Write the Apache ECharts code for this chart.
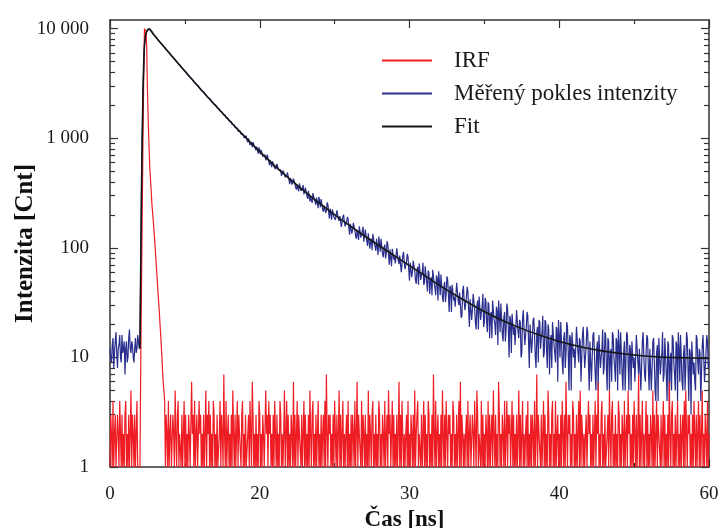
<!DOCTYPE html>
<html><head><meta charset="utf-8">
<script src="https://cdn.jsdelivr.net/npm/echarts@6/dist/echarts.min.js"></script>
<style>html,body{margin:0;padding:0;background:#fff}#c{width:720px;height:528px}</style>
</head><body><div id="c"></div>
<script>
const seriesNames = ['IRF', 'Měřený pokles intenzity', 'Fit'];
const channelNs = 0.075;

const irfCounts = [
1,3,2,1,4,1,2,3,1,1,3,2,1,4,2,1,3,1,2,1,3,4,1,2,1,3,1,2,5,1,3,2,1,3,1,2,4,1,1,
1,1,
8,40,200,900,3500,10000,9900,9500,7000,2800,1500,900,560,430,330,250,205,170,135,110,85,66,52,40,32,25,19,15,11,8,6,5,4,
1,3,2,1,4,1,2,3,1,1,3,2,1,5,2,1,3,4,1,2,
2,1,3,1,2,4,1,3,1,2,1,3,2,1,1,6,2,3,1,4,
1,2,3,1,1,4,2,3,1,2,1,3,1,2,5,1,3,2,4,1,
3,1,2,1,4,3,1,2,1,3,1,1,2,4,1,3,2,1,7,2,
1,4,1,2,3,1,2,1,3,1,5,2,1,3,1,2,4,1,3,2,
2,1,3,4,1,2,1,3,1,1,2,3,1,4,2,1,6,3,1,2,
1,3,1,2,1,4,3,1,2,1,3,2,1,1,5,2,3,1,4,2,
3,1,2,1,3,1,4,2,1,3,1,2,1,4,3,1,2,1,2,5,
1,2,4,1,3,1,2,1,3,2,1,6,1,3,1,2,4,1,3,2,
2,1,3,1,2,4,1,3,1,2,1,3,1,5,2,1,3,4,1,2,
1,3,1,2,4,1,2,1,3,1,2,3,1,4,1,7,2,1,3,2,
3,1,2,1,3,1,4,2,1,3,1,2,5,1,3,1,2,4,1,2,
1,2,3,1,4,1,2,1,3,1,3,2,1,4,1,2,6,1,3,2,
2,1,4,1,3,2,1,3,1,2,1,5,1,3,2,1,3,4,1,2,
1,3,1,2,1,4,3,1,2,1,3,2,1,4,1,2,3,1,5,2,
3,1,2,4,1,3,1,2,1,3,1,2,6,1,3,1,4,2,1,2,
1,2,3,1,4,1,2,1,3,2,1,3,1,5,1,2,3,4,1,2,
2,1,3,1,2,4,1,3,1,2,1,4,3,1,2,1,3,1,7,2,
1,4,1,2,3,1,2,1,3,1,5,2,1,3,1,4,2,1,3,2,
3,1,2,1,4,3,1,2,1,3,1,2,4,1,6,1,3,2,1,2,
1,2,3,1,4,1,2,3,1,1,3,2,1,4,2,1,5,3,1,2,
2,1,4,1,3,1,2,1,3,2,1,4,1,3,1,2,3,1,5,2,
1,3,1,2,1,6,3,1,2,1,3,2,1,4,1,2,4,1,3,2,
3,1,2,4,1,3,1,2,1,3,1,2,5,1,3,1,2,4,1,2,
1,2,3,1,4,1,2,1,3,1,3,2,1,4,1,2,7,1,3,2,
2,1,3,1,2,4,1,3,1,2,1,5,3,1,2,1,3,4,1,2,
1,4,1,2,3,1,2,1,3,1,4,2,1,3,1,6,2,1,3,2,
3,1,2,1,4,3,1,2,1,3,1,2,4,1,5,1,3,2,1,2,
1,2,3,1,1,4,2,3,1,2,1,3,1,2,4,1,3,2,6,1,
2,1,3,4,1,2,1,3,1,1,2,3,1,5,2,1,3,4,1,2,
1,3,1,2,1,4,3,1,2,1,3,2,1,4,1,2,3,1,5,2,
3,1,2,1,3,1,4,2,1,3,1,2,7,1,3,1,2,4,1,2,
1,2,4,1,3,1,2,1,3,2,1,5,1,3,1,2,4,1,3,2,
2,1,3,1,2,4,1,3,1,2,1,3,1,6,2,1,3,4,1,2,
1,3,1,2,4,1,2,1,3,1,2,3,1,4,1,5,2,1,3,2,
3,1,2,1,3,1,4,2,1,3,1,2,4,1,3,1,2,5,1,2,
1,3,2,1,4,1,2
];

const measuredCounts = [
12,10,9,13,15,8,11,14,17,11,8,12,13,16,10,9,16,11,12,14,7,12,14,9,10,15,18,12,11,14,13,10,9,12,15,11,12,16,14,12,
13,60,300,1000,2500,4500,7000,8200,9000,9400,9700,9900,10000,9850,
9650,9400,9200,9100,8950,8720,8520,8430,8300,8080,7900,7790,7650,7470,7330,7240,7120,6960,6830,6750,
6640,6470,6340,6270,6160,6010,5890,5830,5730,5590,5480,5420,5330,5200,5100,5040,4950,4830,4740,4690,
4610,4490,4400,4360,4290,4180,4100,4060,3990,3880,3800,3770,3710,3610,3540,3510,3450,3350,3290,3270,
3210,3120,3060,3040,2990,2900,2840,2830,2800,2700,2640,2640,2610,2520,2460,2460,2430,2340,2290,2300,
2280,2190,2140,2150,2120,2040,2000,2010,1990,1900,1860,1870,1850,1770,1740,1760,1730,1650,1620,1640,
1620,1540,1510,1530,1510,1440,1410,1430,1420,1340,1310,1340,1320,1250,1220,1250,1240,1160,1140,1170,
1160,1090,1065,1090,1085,1010,995,990,
1053,962,918,999,972,868,902,912,828,925,908,835,808,775,839,817,724,825,772,714,
784,727,680,657,699,707,630,646,707,682,619,568,634,617,545,617,610,551,557,523,
514,584,574,516,497,526,514,454,452,507,520,470,439,431,459,487,471,418,381,434,
430,378,393,428,426,385,355,340,378,384,328,388,381,331,339,347,374,307,310,355,
347,300,280,331,320,265,290,300,257,316,311,274,262,247,288,280,230,292,265,235,
279,249,224,214,243,250,208,220,260,248,214,185,228,220,181,225,225,192,198,180,
176,220,217,184,176,195,190,155,156,192,201,173,157,153,172,191,183,153,132,166,
166,135,146,169,170,146,129,121,146,152,118,157,154,124,132,136,156,114,118,147,
143,115,104,136,131,98,114,121,95,134,132,109,103,94,121,117,86,127,110,92,
121,103,88,82,101,107,80,89,115,108,87,70,97,94,68,98,98,78,83,72,
70,99,97,76,71,85,82,60,61,85,92,74,64,62,75,88,83,63,50,73,
73,54,61,76,77,62,51,47,63,67,46,72,70,51,56,60,73,46,48,68,
66,48,40,62,59,38,49,54,37,63,61,47,43,37,56,53,33,61,49,37,
57,45,36,32,45,49,32,38,55,51,37,26,45,43,26,46,46,33,36,29,
28,48,47,33,30,39,38,23,24,40,45,33,27,26,35,44,40,27,19,34,
35,22,27,38,38,28,21,18,30,33,18,36,35,22,26,29,38,19,21,35,
33,21,17,32,30,15,23,26,15,33,32,22,20,16,29,27,13,33,25,17,
31,23,16,14,23,26,14,18,31,28,18,10,24,22,11,25,26,16,19,13,
13,27,27,17,15,22,21,10,11,23,27,18,13,13,19,26,24,14,8,20,
20,11,14,22,23,16,10,8,17,19,9,22,21,12,15,17,24,10,11,22,
21,12,8,20,18,7,13,16,8,21,21,13,11,9,19,18,6,22,16,10,
21,14,9,7,15,17,8,11,21,19,11,5,16,15,5,17,17,10,12,8,
8,19,19,11,9,15,14,6,6,16,19,12,8,8,13,19,17,9,5,14,
14,6,10,16,17,11,7,5,12,14,5,16,16,8,10,12,18,7,8,17,
16,8,5,15,14,5,10,12,6,17,16,10,8,6,15,14,5,18,13,7,
17,11,7,5,11,14,5,9,17,16,9,5,13,12,5,14,14,8,10,6,
6,16,16,9,7,12,12,5,5,14,17,10,7,6,11,16,15,8,5,12,
12,5,8,14,15,9,5,4,11,13,4,15,15,7,9,11,17,6,7,15,
15,7,4,14,13,4,9,11,5,16,15,9,7,5,14,13,4,17,12,6,
16,10,6,5,11,13,5,8,17,15,8,4,12,11,3,14,14,7,9,6,
5,16,15,9,7,12,11,4,4,13,16,10,6,6,11,16,14,8,9
];

const fitTimes  = [3.0,3.15,3.3,3.45,3.6,3.75,3.9,4.4,5,7,9,11,13,15,17,19,21,23,25,27,29,31,33,35,37,39,41,43,45,47,49,51,53,55,57,60];
const fitCounts = [12,300,2500,7000,9000,9700,10000,8800,7550,4610,2860,1800,1150,755,510,357,255,186,138,104,79,60,45.5,35.2,27.7,22.4,18.7,16.0,14.0,12.6,11.6,10.9,10.4,10.1,9.95,9.8];

const xTickValues = [0, 15, 30, 45, 60];
const xTickLabels = ['0', '20', '30', '40', '60'];
const yTickValues = [1, 10, 100, 1000, 10000];
const yTickLabels = ['1', '10', '100', '1 000', '10 000'];

const FONT = "'Liberation Serif', 'Times New Roman', serif";
const AX = '#333';

const toPairs = arr => arr.map((v, i) => [+(i * channelNs).toFixed(4), v]);
const minorY = [];
for (let d = 1; d <= 1000; d *= 10) for (let k = 2; k <= 9; k++) minorY.push(k * d);

const yLabel = v => {
  const idx = yTickValues.findIndex(t => Math.abs(Math.log10(t) - Math.log10(v)) < 1e-6);
  return idx >= 0 ? yTickLabels[idx] : '';
};
const xLabel = v => {
  const idx = xTickValues.findIndex(t => Math.abs(t - v) < 1e-6);
  return idx >= 0 ? xTickLabels[idx] : '';
};

const yBase = { type: 'log', logBase: 10, min: 1, max: 12000, splitLine: { show: false }, minorSplitLine: { show: false } };
const xBase = { type: 'value', min: 0, max: 60, interval: 15, splitLine: { show: false } };

const chart = echarts.init(document.getElementById('c'), null, { renderer: 'canvas' });
chart.setOption({
  animation: false,
  backgroundColor: '#fff',
  grid: { left: 110, right: 11, top: 20, bottom: 61, containLabel: false, outerBoundsMode: 'none' },
  legend: {
    data: seriesNames.map(n => ({ name: n, icon: 'rect' })),
    orient: 'vertical',
    left: 377, top: 44,
    itemWidth: 50, itemHeight: 2, itemGap: 10,
    textStyle: { fontFamily: FONT, fontSize: 23, color: '#1a1a1a', padding: [0, 0, 0, 17] }
  },
  xAxis: [
    Object.assign({}, xBase, {
      position: 'bottom',
      axisLine: { show: true, lineStyle: { color: AX, width: 1.5 } },
      axisTick: { show: true, inside: true, length: 8, lineStyle: { color: AX, width: 1.2 } },
      minorTick: { show: true, splitNumber: 2, length: 4, lineStyle: { color: AX, width: 1.2 } },
      axisLabel: { formatter: xLabel, margin: 18, fontFamily: FONT, fontSize: 19, color: '#1a1a1a' },
      name: 'Čas [ns]', nameLocation: 'middle', nameGap: 42,
      nameTextStyle: { fontFamily: FONT, fontSize: 23, fontWeight: 'bold', color: '#111', padding: [0, 10, 0, 0] }
    }),
    Object.assign({}, xBase, {
      position: 'top',
      axisLine: { show: true, lineStyle: { color: AX, width: 1.5 } },
      axisTick: { show: true, inside: true, length: 8, lineStyle: { color: AX, width: 1.2 } },
      minorTick: { show: true, splitNumber: 2, length: 4, lineStyle: { color: AX, width: 1.2 } },
      axisLabel: { show: false }
    })
  ],
  yAxis: [
    Object.assign({}, yBase, {
      position: 'left',
      axisLine: { show: true, lineStyle: { color: AX, width: 1.5 } },
      axisTick: { show: true, inside: true, length: 8, customValues: yTickValues, lineStyle: { color: AX, width: 1.2 } },
      axisLabel: { show: true, customValues: yTickValues, formatter: yLabel, margin: 21, fontFamily: FONT, fontSize: 19, color: '#1a1a1a' },
      name: 'Intenzita [Cnt]', nameLocation: 'middle', nameGap: 72, nameMoveOverlap: false,
      nameTextStyle: { fontFamily: FONT, fontSize: 25, fontWeight: 'bold', color: '#111' }
    }),
    Object.assign({}, yBase, {
      position: 'left',
      axisLine: { show: false },
      axisTick: { show: true, inside: true, length: 5, customValues: minorY, lineStyle: { color: AX, width: 1.2 } },
      axisLabel: { show: false }
    }),
    Object.assign({}, yBase, {
      position: 'right',
      axisLine: { show: true, lineStyle: { color: AX, width: 1.5 } },
      axisTick: { show: true, inside: true, length: 8, customValues: yTickValues, lineStyle: { color: AX, width: 1.2 } },
      axisLabel: { show: false }
    }),
    Object.assign({}, yBase, {
      position: 'right',
      axisLine: { show: false },
      axisTick: { show: true, inside: true, length: 5, customValues: minorY, lineStyle: { color: AX, width: 1.2 } },
      axisLabel: { show: false }
    })
  ],
  series: [
    {
      name: seriesNames[1], type: 'line', xAxisIndex: 0, yAxisIndex: 0,
      data: toPairs(measuredCounts), symbol: 'none', showSymbol: false, sampling: null,
      lineStyle: { color: '#2a2f8e', width: 1.2 }, itemStyle: { color: '#2a2f8e' }, z: 2
    },
    {
      name: seriesNames[0], type: 'line', xAxisIndex: 0, yAxisIndex: 0,
      data: toPairs(irfCounts), symbol: 'none', showSymbol: false, sampling: null,
      lineStyle: { color: '#ee1d24', width: 1.2 }, itemStyle: { color: '#ee1d24' }, z: 3
    },
    {
      name: seriesNames[2], type: 'line', xAxisIndex: 0, yAxisIndex: 0,
      data: fitTimes.map((t, i) => [t, fitCounts[i]]), symbol: 'none', showSymbol: false,
      smooth: 0.3,
      lineStyle: { color: '#151515', width: 1.6 }, itemStyle: { color: '#151515' }, z: 4
    }
  ]
});
</script></body></html>
